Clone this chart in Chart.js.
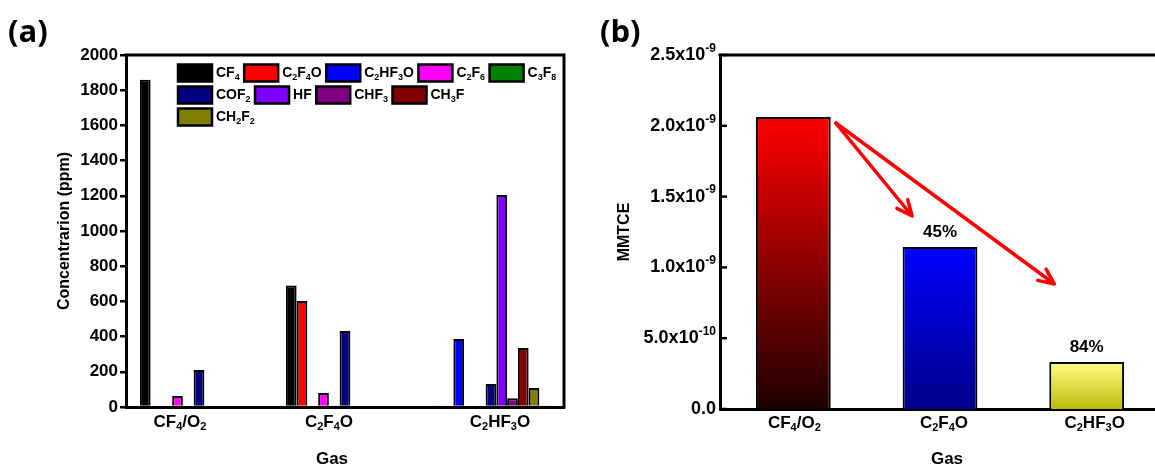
<!DOCTYPE html>
<html>
<head>
<meta charset="utf-8">
<script src="https://cdn.jsdelivr.net/npm/chart.js@4.4.1/dist/chart.umd.min.js"></script>
<style>
  html, body { margin: 0; padding: 0; background: #fff; overflow: hidden; }
  #wrap { position: relative; width: 1155px; height: 468px; overflow: hidden; }
  #chartA { position: absolute; left: 0; top: 0; }
  #chartB { position: absolute; left: 580px; top: 0; }
</style>
</head>
<body>
<div id="wrap">
  <canvas id="chartA" width="585" height="468"></canvas>
  <canvas id="chartB" width="600" height="468"></canvas>
</div>
<script>
const FONT = '"Liberation Sans", Arial, sans-serif';

// categories (shared by both panels), "_" = subscript, "^" = superscript
const gases = ['CF_4/O_2', 'C_2F_4O', 'C_2HF_3O'];

// panel (a): concentration of each product gas (ppm)
const species = ['CF_4', 'C_2F_4O', 'C_2HF_3O', 'C_2F_6', 'C_3F_8', 'COF_2', 'HF', 'CHF_3', 'CH_3F', 'CH_2F_2', ''];
const speciesColors = ['#000000', '#ff0000', '#0000ff', '#ff00ff', '#008000', '#000080', '#8000ff', '#800080', '#800000', '#808000', '#303030'];
const cf4    = [1860, 690, 5];
const c2f4o  = [0, 602, 0];
const c2hf3o = [0, 0, 386];
const c2f6   = [62, 80, 0];
const c3f8   = [0, 4, 0];
const cof2   = [210, 432, 130];
const hf     = [0, 0, 1205];
const chf3   = [0, 0, 50];
const ch3f   = [0, 0, 335];
const ch2f2  = [0, 0, 108];
const other  = [0, 0, 6];
const concData = [cf4, c2f4o, c2hf3o, c2f6, c3f8, cof2, hf, chf3, ch3f, ch2f2, other];
const legendRows = [[0, 1, 2, 3, 4], [5, 6, 7, 8], [9]];

// panel (b): MMTCE per gas
const mmtce = [2.062e-9, 1.144e-9, 0.332e-9];
const reduction = ['', '45%', '84%'];
const mmtceTicks = [0, 5e-10, 1e-9, 1.5e-9, 2e-9, 2.5e-9];
const mmtceTickLabels = ['0.0', '5.0x10^{-10}', '1.0x10^{-9}', '1.5x10^{-9}', '2.0x10^{-9}', '2.5x10^{-9}'];
const gradTop = ['#ff0000', '#0000ff', '#ffff80'];
const gradBottom = ['#1e0000', '#000088', '#bcbc10'];

// small label nudges, as in the original figure
const xShiftA = [-19, -16, 9];
const xShiftB = [1, 4, 8];

function parseRich(str) {
  const parts = [];
  let i = 0, buf = '';
  while (i < str.length) {
    const c = str[i];
    if (c === '_' || c === '^') {
      if (buf) { parts.push({ t: buf, m: 0 }); buf = ''; }
      let t;
      if (str[i + 1] === '{') {
        const j = str.indexOf('}', i);
        t = str.slice(i + 2, j);
        i = j + 1;
      } else {
        t = str[i + 1];
        i += 2;
      }
      parts.push({ t: t, m: c === '_' ? 1 : -1 });
    } else {
      buf += c;
      i++;
    }
  }
  if (buf) parts.push({ t: buf, m: 0 });
  return parts;
}

function richText(ctx, str, x, y, size, align) {
  const parts = parseRich(str);
  const small = Math.round(size * 0.66);
  let w = 0;
  parts.forEach(p => {
    ctx.font = 'bold ' + (p.m ? small : size) + 'px ' + FONT;
    p.w = ctx.measureText(p.t).width;
    w += p.w;
  });
  let cx = align === 'center' ? x - w / 2 : align === 'right' ? x - w : x;
  ctx.save();
  ctx.fillStyle = '#000';
  ctx.textBaseline = 'middle';
  ctx.textAlign = 'left';
  parts.forEach(p => {
    ctx.font = 'bold ' + (p.m ? small : size) + 'px ' + FONT;
    const dy = p.m === 1 ? size * 0.3 : p.m === -1 ? -size * 0.36 : 0;
    ctx.fillText(p.t, cx, y + dy);
    cx += p.w;
  });
  ctx.restore();
  return w;
}

function panelLabel(ctx, text, x) {
  ctx.save();
  ctx.fillStyle = '#000';
  ctx.font = 'bold 31px "Open Sans", ' + FONT;
  ctx.textBaseline = 'alphabetic';
  ctx.fillText(text, x, 42);
  ctx.restore();
}

const decorA = {
  id: 'decorA',
  afterDraw(chart) {
    const { ctx, chartArea: a, scales: { x } } = chart;
    ctx.save();
    ctx.strokeStyle = '#000';
    ctx.lineWidth = 3;
    ctx.beginPath();
    ctx.moveTo(a.left - 1.5, a.top);
    ctx.lineTo(a.right, a.top);
    ctx.lineTo(a.right, a.bottom + 1.5);
    ctx.stroke();
    ctx.restore();

    gases.forEach((g, i) => richText(ctx, g, x.getPixelForValue(i) + xShiftA[i], a.bottom + 15, 17, 'center'));

    ctx.save();
    ctx.translate(65, (a.top + a.bottom) / 2);
    ctx.rotate(-Math.PI / 2);
    richText(ctx, 'Concentrarion (ppm)', 0, 0, 16, 'center');
    ctx.restore();
    richText(ctx, 'Gas', (a.left + a.right) / 2 - 13, 459, 17, 'center');
    panelLabel(ctx, '(a)', 8);

    // legend
    legendRows.forEach((row, r) => {
      let cx = a.left + 52;
      const cy = a.top + 18 + r * 22;
      row.forEach(k => {
        ctx.save();
        ctx.fillStyle = speciesColors[k];
        ctx.fillRect(cx, cy - 8.5, 34, 17);
        ctx.strokeStyle = '#000';
        ctx.lineWidth = 2.5;
        ctx.strokeRect(cx, cy - 8.5, 34, 17);
        ctx.restore();
        const w = richText(ctx, species[k], cx + 38, cy, 14, 'left');
        cx += 38 + w + 4.5;
      });
    });
  }
};

function arrow(ctx, x0, y0, x1, y1) {
  const ang = Math.atan2(y1 - y0, x1 - x0);
  const head = 17, spread = 0.42;
  ctx.beginPath();
  ctx.moveTo(x0, y0);
  ctx.lineTo(x1, y1);
  ctx.moveTo(x1 - head * Math.cos(ang - spread), y1 - head * Math.sin(ang - spread));
  ctx.lineTo(x1, y1);
  ctx.lineTo(x1 - head * Math.cos(ang + spread), y1 - head * Math.sin(ang + spread));
  ctx.stroke();
}

const decorB = {
  id: 'decorB',
  afterDraw(chart) {
    const { ctx, chartArea: a, scales: { x, y } } = chart;
    ctx.save();
    ctx.strokeStyle = '#000';
    ctx.lineWidth = 3;
    ctx.beginPath();
    ctx.moveTo(a.left - 1.5, a.top);
    ctx.lineTo(a.right + 40, a.top);
    ctx.stroke();
    ctx.lineWidth = 2.5;
    mmtceTicks.forEach(v => {
      const py = y.getPixelForValue(v);
      ctx.beginPath();
      ctx.moveTo(a.left, py);
      ctx.lineTo(a.left + 7, py);
      ctx.stroke();
    });
    ctx.restore();

    mmtceTicks.forEach((v, i) => richText(ctx, mmtceTickLabels[i], a.left - 4, y.getPixelForValue(v), 18, 'right'));
    gases.forEach((g, i) => richText(ctx, g, x.getPixelForValue(i) + xShiftB[i], a.bottom + 14, 17, 'center'));

    ctx.save();
    ctx.translate(45, (a.top + a.bottom) / 2);
    ctx.rotate(-Math.PI / 2);
    richText(ctx, 'MMTCE', 0, 0, 16, 'center');
    ctx.restore();
    richText(ctx, 'Gas', (a.left + a.right) / 2 + 7, 459, 17, 'center');
    panelLabel(ctx, '(b)', 20);

    // reduction labels and arrows
    const cw = x.getPixelForValue(1) - x.getPixelForValue(0);
    mmtce.forEach((v, i) => {
      if (reduction[i]) richText(ctx, reduction[i], x.getPixelForValue(i), y.getPixelForValue(v) - 15, 17, 'center');
    });
    const sx = x.getPixelForValue(0) + 0.29 * cw;
    const sy = y.getPixelForValue(mmtce[0]) + 6;
    ctx.save();
    ctx.strokeStyle = '#ff0000';
    ctx.lineWidth = 3.5;
    ctx.lineCap = 'round';
    ctx.lineJoin = 'round';
    arrow(ctx, sx, sy, x.getPixelForValue(1) - 0.19 * cw, y.getPixelForValue(mmtce[1]) - 31);
    arrow(ctx, sx, sy, x.getPixelForValue(2) - 0.22 * cw, y.getPixelForValue(mmtce[2]) - 78);
    ctx.restore();
  }
};

function gradFill(c) {
  const chart = c.chart;
  if (!chart.chartArea) return gradTop[c.dataIndex];
  const y = chart.scales.y;
  const g = chart.ctx.createLinearGradient(0, y.getPixelForValue(c.raw), 0, y.getPixelForValue(0));
  g.addColorStop(0, gradTop[c.dataIndex]);
  g.addColorStop(1, gradBottom[c.dataIndex]);
  return g;
}

new Chart(document.getElementById('chartA'), {
  type: 'bar',
  data: {
    labels: gases,
    datasets: species.map((s, i) => ({
      label: s,
      data: concData[i],
      backgroundColor: speciesColors[i],
      borderColor: '#000',
      borderWidth: 2
    }))
  },
  options: {
    responsive: false,
    animation: false,
    layout: { padding: { top: 55, right: 21, left: 0, bottom: 0 } },
    plugins: { legend: { display: false }, tooltip: { enabled: false } },
    datasets: { bar: { categoryPercentage: 0.81, barPercentage: 1 } },
    scales: {
      x: {
        grid: { display: false },
        border: { display: true, color: '#000', width: 3 },
        ticks: { display: false },
        afterFit: s => { s.height = 61; }
      },
      y: {
        min: 0,
        max: 2000,
        ticks: {
          stepSize: 200,
          color: '#000',
          padding: 2,
          font: { family: FONT, size: 17, weight: 'bold' },
          callback: v => String(v)
        },
        grid: { drawOnChartArea: false, color: '#000', tickLength: 6, lineWidth: 2.5 },
        border: { color: '#000', width: 3 },
        afterFit: s => { s.width = 126; }
      }
    }
  },
  plugins: [decorA]
});

new Chart(document.getElementById('chartB'), {
  type: 'bar',
  data: {
    labels: gases,
    datasets: [{
      label: 'MMTCE',
      data: mmtce,
      backgroundColor: gradFill,
      borderColor: '#000',
      borderWidth: 2
    }]
  },
  options: {
    responsive: false,
    animation: false,
    layout: { padding: { top: 55, right: 20, left: 0, bottom: 0 } },
    plugins: { legend: { display: false }, tooltip: { enabled: false } },
    datasets: { bar: { categoryPercentage: 1, barPercentage: 0.51 } },
    scales: {
      x: {
        grid: { display: false },
        border: { display: true, color: '#000', width: 3 },
        ticks: { display: false },
        afterFit: s => { s.height = 59; }
      },
      y: {
        min: 0,
        max: 2.5e-9,
        ticks: { display: false },
        grid: { display: false },
        border: { display: true, color: '#000', width: 3 },
        afterFit: s => { s.width = 140; }
      }
    }
  },
  plugins: [decorB]
});
</script>
</body>
</html>
